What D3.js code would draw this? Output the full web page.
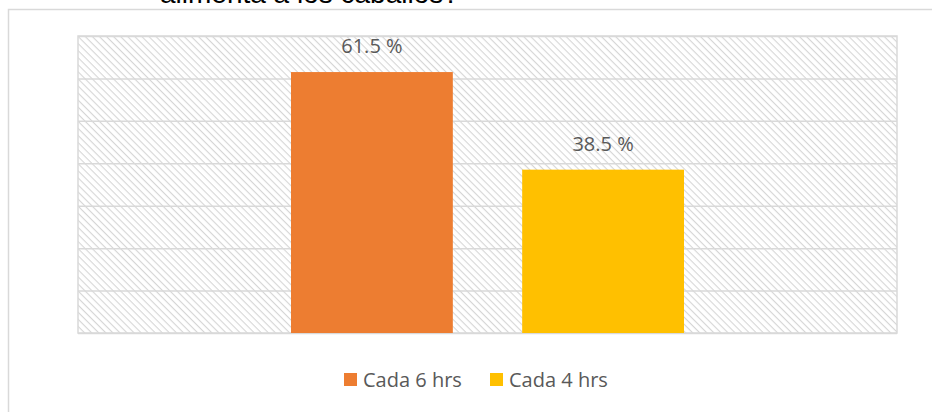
<!DOCTYPE html>
<html>
<head>
<meta charset="utf-8">
<script src="https://cdn.jsdelivr.net/npm/d3@7"></script>
<style>
  html, body { margin: 0; padding: 0; background: #fff; }
  svg { display: block; }
</style>
</head>
<body>
<div id="chart"></div>
<script>
// data
var categories = ["Frecuencia"];
var seriesNames = ["Cada 6 hrs", "Cada 4 hrs"];
var seriesValues = [61.5, 38.5];
var seriesColors = ["#ed7d31", "#ffc000"];
var yTicks = [0, 10, 20, 30, 40, 50, 60, 70];
var titleText = "alimenta a los caballos?";

var width = 932, height = 412;
var plot = { left: 78, top: 36, right: 897, bottom: 333 };

var svg = d3.select("#chart").append("svg")
    .attr("width", width)
    .attr("height", height);

var defs = svg.append("defs");
var hatch = defs.append("pattern")
    .attr("id", "hatch")
    .attr("patternUnits", "userSpaceOnUse")
    .attr("width", 5)
    .attr("height", 5)
    .attr("patternTransform", "rotate(45)");
hatch.append("rect")
    .attr("width", 5).attr("height", 5)
    .style("fill", "#fff");
hatch.append("line")
    .attr("x1", 0).attr("y1", 0)
    .attr("x2", 5).attr("y2", 0)
    .style("stroke", "#d6d6d6")
    .style("stroke-width", 2.2);

// chart area border (right and bottom fall outside the window)
svg.append("path")
    .attr("d", "M8.5," + height + " V9.5 H" + width)
    .style("fill", "none")
    .style("stroke", "#d9d9d9")
    .style("stroke-width", 1.5);

// title, mostly cut off at the top
svg.append("text")
    .attr("x", 160)
    .attr("y", 3)
    .style("font-family", "'Liberation Sans', Arial, sans-serif")
    .style("font-size", "28px")
    .style("fill", "#000")
    .text(titleText);

var y = d3.scaleLinear()
    .domain([0, d3.max(yTicks)])
    .range([plot.bottom, plot.top]);

var x0 = d3.scaleBand()
    .domain(categories)
    .range([plot.left, plot.right])
    .padding(0);

// series inside the category, relative to its left edge
var x1 = d3.scaleBand()
    .domain(seriesNames)
    .range([213, 213 + 393])
    .paddingInner(0.3)
    .paddingOuter(0);

// hatched plot background
svg.append("rect")
    .attr("x", plot.left)
    .attr("y", plot.top)
    .attr("width", plot.right - plot.left)
    .attr("height", plot.bottom - plot.top)
    .style("fill", "url(#hatch)");

// gridlines
var yAxis = d3.axisLeft(y)
    .tickValues(yTicks)
    .tickSize(-(plot.right - plot.left))
    .tickFormat("");

var gy = svg.append("g")
    .attr("transform", "translate(" + plot.left + ",0)")
    .call(yAxis);
gy.select(".domain").remove();
gy.selectAll(".tick line")
    .style("stroke", "#d9d9d9")
    .style("stroke-width", 1.5);

// plot outline
svg.append("rect")
    .attr("x", plot.left)
    .attr("y", plot.top)
    .attr("width", plot.right - plot.left)
    .attr("height", plot.bottom - plot.top)
    .style("fill", "none")
    .style("stroke", "#d9d9d9")
    .style("stroke-width", 1.5);

var data = seriesNames.map(function(name, i) {
    return { name: name, value: seriesValues[i], color: seriesColors[i] };
});

var group = svg.selectAll(".cat")
    .data(categories)
    .enter().append("g")
    .attr("class", "cat")
    .attr("transform", function(d) { return "translate(" + x0(d) + ",0)"; });

group.selectAll("rect")
    .data(data)
    .enter().append("rect")
    .attr("x", function(d) { return x1(d.name); })
    .attr("y", function(d) { return y(d.value); })
    .attr("width", x1.bandwidth())
    .attr("height", function(d) { return y(0) - y(d.value); })
    .style("fill", function(d) { return d.color; });

group.selectAll(".label")
    .data(data)
    .enter().append("text")
    .attr("class", "label")
    .attr("x", function(d) { return x1(d.name) + x1.bandwidth() / 2; })
    .attr("y", function(d) { return y(d.value) - 19; })
    .attr("text-anchor", "middle")
    .style("font-family", "'Open Sans', sans-serif")
    .style("font-size", "20px")
    .style("fill", "#595959")
    .text(function(d) { return d3.format(".1f")(d.value) + " %"; });

// legend
var legendX = [344, 490];
var legend = svg.selectAll(".legend")
    .data(data)
    .enter().append("g")
    .attr("class", "legend")
    .attr("transform", function(d, i) { return "translate(" + legendX[i] + ",373)"; });

legend.append("rect")
    .attr("width", 13)
    .attr("height", 13)
    .style("fill", function(d) { return d.color; });

legend.append("text")
    .attr("x", 19)
    .attr("y", 14)
    .style("font-family", "'Open Sans', sans-serif")
    .style("font-size", "20px")
    .style("fill", "#595959")
    .text(function(d) { return d.name; });
</script>
</body>
</html>
